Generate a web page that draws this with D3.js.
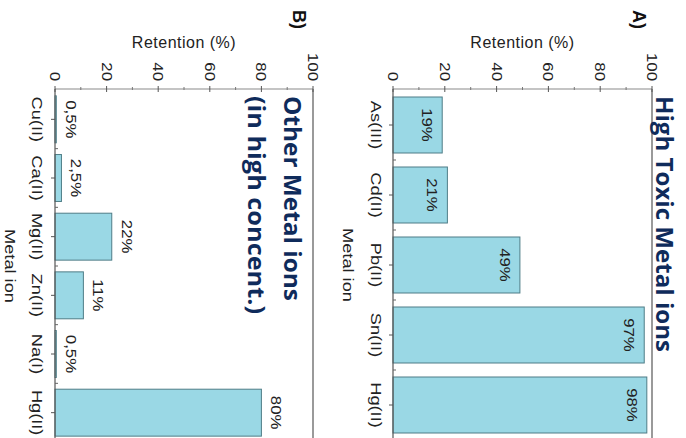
<!DOCTYPE html>
<html>
<head>
<meta charset="utf-8">
<script src="https://cdn.jsdelivr.net/npm/d3@7/dist/d3.min.js"></script>
<style>
  html, body { margin: 0; padding: 0; background: #fff; }
  svg { display: block; }
</style>
</head>
<body>
<svg id="chart" width="686" height="438"></svg>
<script>
// Panel A: highly toxic metal ions
const toxicIons = ["As(III)", "Cd(II)", "Pb(II)", "Sn(II)", "Hg(II)"];
const toxicRetention = [19, 21, 49, 97, 98];
const toxicLabels = ["19%", "21%", "49%", "97%", "98%"];

// Panel B: other metal ions in high concentration
const otherIons = ["Cu(II)", "Ca(II)", "Mg(II)", "Zn(II)", "Na(I)", "Hg(II)"];
const otherRetention = [0.5, 2.5, 22, 11, 0.5, 80];
const otherLabels = ["0,5%", "2,5%", "22%", "11%", "0,5%", "80%"];

const valueTicks = [0, 20, 40, 60, 80, 100];
const minorTicks = [10, 30, 50, 70, 90];

const svg = d3.select("#chart");
const FILL = "#9ad8e5", STROKE = "#4f7d87", NAVY = "#0f2b5b";
const FONT = "'Liberation Sans', Arial, sans-serif";

// The figure is laid out sideways: values run left-to-right, categories top-to-bottom,
// and every label is turned a quarter clockwise.
function turned(sel, x, y, sx) {
  return sel.attr("transform", `translate(${x},${y}) rotate(90)` + (sx ? ` scale(${sx},1)` : ""));
}

function panel(cfg) {
  const g = svg.append("g");
  const x = d3.scaleLinear().domain([0, 100]).range(cfg.xRange);
  const y = d3.scaleBand().domain(cfg.cats).range(cfg.yRange).paddingInner(0.2).paddingOuter(0.1);
  const top = cfg.axisY, bottom = 442;

  // frame
  g.append("line").attr("x1", x(100)).attr("x2", x(100)).attr("y1", top).attr("y2", bottom)
    .attr("stroke", "#9a9a9a").attr("stroke-width", 2);
  g.append("line").attr("x1", x(0)).attr("x2", x(100)).attr("y1", top).attr("y2", top)
    .attr("stroke", "#8a8a8a").attr("stroke-width", 1.2);

  // bars
  g.selectAll("rect.bar").data(cfg.cats).join("rect")
    .attr("class", "bar")
    .attr("x", x(0))
    .attr("y", d => y(d))
    .attr("width", (d, i) => x(cfg.values[i]) - x(0))
    .attr("height", y.bandwidth())
    .attr("fill", FILL)
    .attr("stroke", STROKE)
    .attr("stroke-width", 1);

  // left axis line
  g.append("line").attr("x1", x(0)).attr("x2", x(0)).attr("y1", top).attr("y2", bottom)
    .attr("stroke", "#555").attr("stroke-width", 1.2);

  // value ticks
  g.selectAll("line.maj").data(valueTicks).join("line").attr("class", "maj")
    .attr("x1", d => x(d)).attr("x2", d => x(d)).attr("y1", top - 3).attr("y2", top + 3)
    .attr("stroke", "#555").attr("stroke-width", 1);
  g.selectAll("line.min").data(minorTicks).join("line").attr("class", "min")
    .attr("x1", d => x(d)).attr("x2", d => x(d)).attr("y1", top - 2).attr("y2", top + 1)
    .attr("stroke", "#777").attr("stroke-width", 1);
  g.selectAll("text.tick").data(valueTicks).join("text").attr("class", "tick")
    .each(function (d) { turned(d3.select(this), x(d), top - 8, 1.2); })
    .attr("text-anchor", "end").attr("dominant-baseline", "central")
    .attr("font-family", FONT).attr("font-size", 14).attr("fill", "#222")
    .text(d => d);

  // category ticks and labels
  g.selectAll("line.cat").data(cfg.cats).join("line").attr("class", "cat")
    .attr("x1", x(0) - 4).attr("x2", x(0))
    .attr("y1", d => y(d) + y.bandwidth() / 2).attr("y2", d => y(d) + y.bandwidth() / 2)
    .attr("stroke", "#555");
  const bounds = cfg.cats.slice(1).map(d => y(d) - y.step() * y.paddingInner() / 2);
  g.selectAll("line.bnd").data(bounds).join("line").attr("class", "bnd")
    .attr("x1", x(0)).attr("x2", x(0) + 3).attr("y1", d => d).attr("y2", d => d)
    .attr("stroke", "#666");
  g.selectAll("text.cat").data(cfg.cats).join("text").attr("class", "cat")
    .each(function (d) { turned(d3.select(this), cfg.catX, y(d) + y.bandwidth() / 2, 1.3); })
    .attr("text-anchor", "middle").attr("dominant-baseline", "central")
    .attr("font-family", FONT).attr("font-size", 14).attr("fill", "#222")
    .text(d => d);

  // value labels
  g.selectAll("text.val").data(cfg.cats).join("text").attr("class", "val")
    .each(function (d, i) {
      turned(d3.select(this), x(cfg.values[i]) + cfg.labelOffset, y(d) + y.bandwidth() / 2, 1.2);
    })
    .attr("text-anchor", "middle").attr("dominant-baseline", "central")
    .attr("font-family", FONT).attr("font-size", 14).attr("fill", "#222")
    .text((d, i) => cfg.labels[i]);

  // axis titles
  g.append("text").attr("x", (x(0) + x(100)) / 2).attr("y", 48)
    .attr("text-anchor", "middle").attr("font-family", FONT).attr("font-size", 16)
    .attr("letter-spacing", 0.5).attr("fill", "#222").text("Retention (%)");
  turned(g.append("text"), cfg.metalX, (cfg.yRange[0] + cfg.yRange[1]) / 2, 1.3)
    .attr("text-anchor", "middle").attr("dominant-baseline", "central")
    .attr("font-family", FONT).attr("font-size", 14).attr("fill", "#222").text("Metal ion");

  // panel letter
  turned(g.append("text"), cfg.letterX, 10)
    .attr("text-anchor", "start").attr("font-family", FONT).attr("font-weight", "bold")
    .attr("font-size", 18).attr("fill", "#111").text(cfg.letter);

  // panel heading
  cfg.heading.forEach((line, i) => {
    turned(g.append("text"), cfg.headX[i], 96)
      .attr("text-anchor", "start").attr("font-family", "'Open Sans', sans-serif")
      .attr("font-weight", "bold").attr("font-size", 24).attr("fill", NAVY)
      .attr("textLength", cfg.headLen[i]).attr("lengthAdjust", "spacingAndGlyphs")
      .text(line);
  });
}

panel({
  cats: toxicIons, values: toxicRetention, labels: toxicLabels,
  xRange: [393, 652], yRange: [90, 440], axisY: 89,
  catX: 376, metalX: 348, labelOffset: -15,
  letter: "A)", letterX: 633,
  heading: ["High Toxic Metal ions"], headX: [656], headLen: [256]
});

panel({
  cats: otherIons, values: otherRetention, labels: otherLabels,
  xRange: [55, 313], yRange: [90, 442], axisY: 89,
  catX: 37, metalX: 10, labelOffset: 15,
  letter: "B)", letterX: 293,
  heading: ["Other Metal ions", "(in high concent.)"], headX: [284, 248], headLen: [205, 218]
});
</script>
</body>
</html>
